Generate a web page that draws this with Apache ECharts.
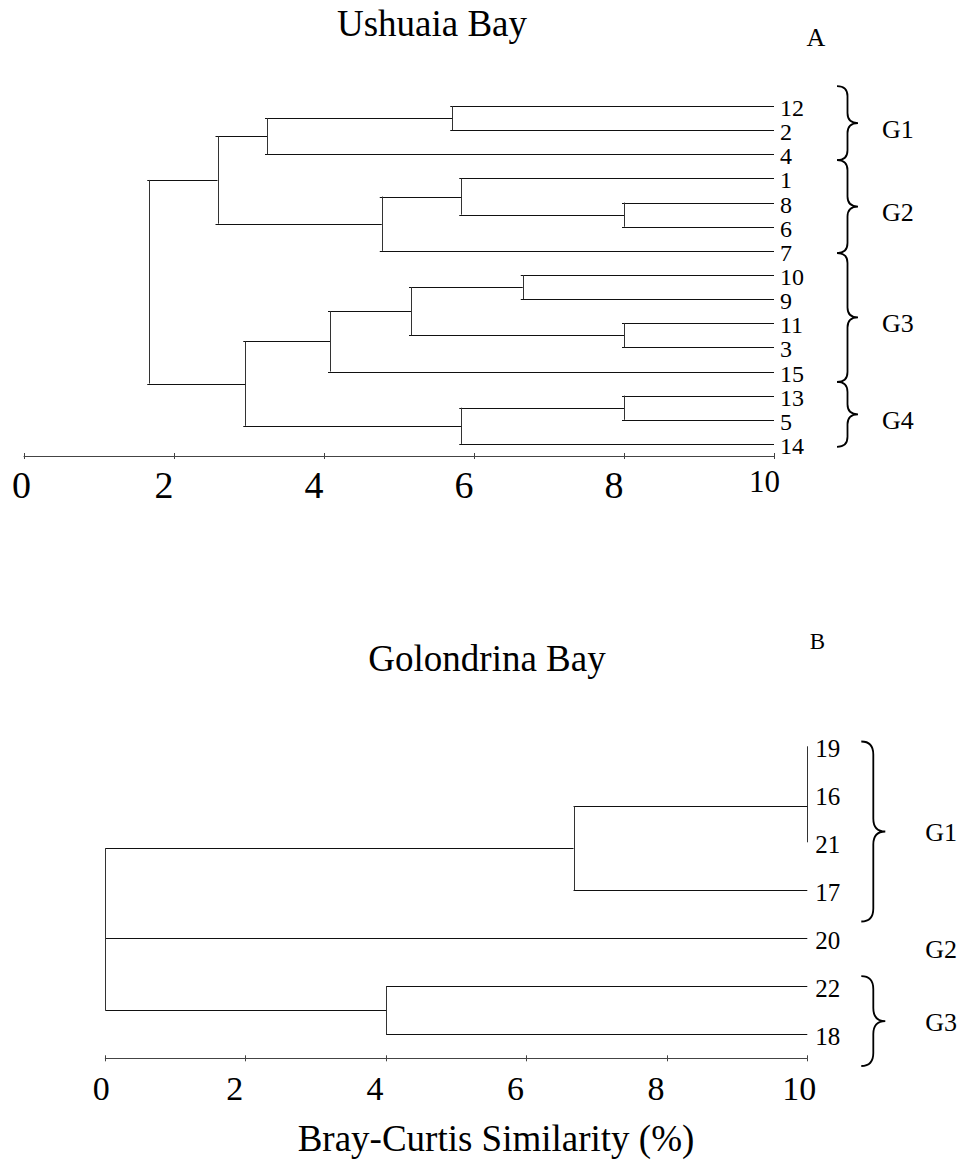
<!DOCTYPE html>
<html><head><meta charset="utf-8">
<script src="https://cdn.jsdelivr.net/npm/echarts@6/dist/echarts.min.js"></script>
<style>html,body{margin:0;padding:0;background:#fff}#c{width:965px;height:1165px}</style>
</head><body><div id="c"></div>
<script>
// ---------------- data ----------------
const axisTicks = [0, 2, 4, 6, 8, 10];
const leafLevel = 10;

const ushuaiaLeaves = ['12','2','4','1','8','6','7','10','9','11','3','15','13','5','14'];
// [childA, childB, similarity]; indices >= leaves.length refer to earlier merges
const ushuaiaMerges = [
  [0, 1, 5.71], [15, 2, 3.24], [4, 5, 8.0], [3, 17, 5.83], [18, 6, 4.77], [16, 19, 2.58],
  [7, 8, 6.65], [9, 10, 8.0], [21, 22, 5.16], [23, 11, 4.08], [12, 13, 8.0], [25, 14, 5.83],
  [24, 26, 2.95], [20, 27, 1.67]
];
const ushuaiaGroups = ['G1', 'G2', 'G3', 'G4'];
const ushuaiaGroupSpans = [[-0.83, 2.24], [2.24, 6.09], [6.09, 11.43], [11.43, 14.12]];
const ushuaiaBraced = [true, true, true, true];

const golondrinaLeaves = ['19','16','21','17','20','22','18'];
const golondrinaMerges = [[0, 1, 10], [7, 2, 10], [8, 3, 6.67], [5, 6, 4.0], [9, 4, 0], [11, 10, 0]];
const golondrinaGroups = ['G1', 'G2', 'G3'];
const golondrinaGroupSpans = [[-0.1, 3.65], [3.65, 4.79], [4.79, 6.66]];
const golondrinaBraced = [true, false, true];

// ---------------- helpers ----------------
const FONT = 'Liberation Serif, Times New Roman, serif';

function dendroSegments(nLeaves, merges) {
  const nodes = [];
  for (let i = 0; i < nLeaves; i++) nodes.push({ x: leafLevel, y: i });
  const segs = [];
  merges.forEach(([a, b, h]) => {
    const A = nodes[a], B = nodes[b];
    segs.push([A.x, A.y, h, A.y, 1]);
    segs.push([B.x, B.y, h, B.y, 1]);
    segs.push([h, A.y, h, B.y, 0]);
    nodes.push({ x: h, y: (A.y + B.y) / 2 });
  });
  return segs;
}

function txt(text, x, y, size, align) {
  return { type: 'text', x: 0, y: 0, style: {
    text: text, x: x, y: y, font: size + 'px ' + FONT, fill: '#000',
    textAlign: align || 'left', textVerticalAlign: 'middle', align: align || 'left', verticalAlign: 'middle'
  } };
}

function dendroSeries(idx, leaves, merges, groups, spans, braced, st) {
  const segs = dendroSegments(leaves.length, merges);
  const linesSeries = {
    type: 'custom', xAxisIndex: idx * 2, yAxisIndex: idx, clip: false, silent: true,
    data: segs, encode: { x: [0, 2], y: [1, 3] },
    renderItem: function (params, api) {
      const p1 = api.coord([api.value(0), api.value(1)]);
      const p2 = api.coord([api.value(2), api.value(3)]);
      const horiz = api.value(4) === 1;
      let x1 = p1[0], x2 = p2[0], y1 = p1[1], y2 = p2[1];
      if (horiz) { y1 = y2 = Math.round(y1) + 0.5; if (st.stub) x2 -= 2; }
      else { x1 = x2 = Math.round(x1) + 0.5; }
      return { type: 'line', shape: { x1: x1, y1: y1, x2: x2, y2: y2 },
        style: { stroke: horiz ? '#111' : '#333', lineWidth: 1 } };
    }
  };
  const labelSeries = {
    type: 'custom', xAxisIndex: idx * 2, yAxisIndex: idx, clip: false, silent: true,
    data: leaves.map((n, i) => [leafLevel, i]),
    renderItem: function (params, api) {
      const p = api.coord([api.value(0), api.value(1)]);
      return txt(leaves[params.dataIndex], p[0] + st.leafGap, p[1] + 2, st.leafSize, 'left');
    }
  };
  const braceSeries = {
    type: 'custom', xAxisIndex: idx * 2, yAxisIndex: idx, clip: false, silent: true,
    data: spans.map(s => [leafLevel, s[0], s[1]]),
    renderItem: function (params, api) {
      const pa = api.coord([api.value(0), api.value(1)]);
      const pb = api.coord([api.value(0), api.value(2)]);
      const ya = pa[1], yb = pb[1], ym = (ya + yb) / 2;
      const x0 = pa[0] + st.braceOff, x2 = x0 + st.braceW, x1 = (x0 + x2) / 2;
      const r = Math.min(st.braceR, (yb - ya) / 4);
      const children = [];
      if (braced[params.dataIndex]) {
        const d = 'M' + x0 + ' ' + ya + ' Q' + x1 + ' ' + ya + ' ' + x1 + ' ' + (ya + r) +
          ' L' + x1 + ' ' + (ym - r) + ' Q' + x1 + ' ' + ym + ' ' + x2 + ' ' + ym +
          ' Q' + x1 + ' ' + ym + ' ' + x1 + ' ' + (ym + r) +
          ' L' + x1 + ' ' + (yb - r) + ' Q' + x1 + ' ' + yb + ' ' + x0 + ' ' + yb;
        children.push({ type: 'path', shape: { pathData: d },
          style: { fill: 'none', stroke: '#000', lineWidth: 1.8 } });
      }
      children.push(txt(groups[params.dataIndex], pa[0] + st.groupOff, ym + st.groupDy, st.groupSize, 'left'));
      return { type: 'group', children: children };
    }
  };
  return [linesSeries, labelSeries, braceSeries];
}

function xAxes(gridIndex, rich, fmt, margin) {
  const line = { color: '#444', width: 1 };
  return [
    { gridIndex: gridIndex, type: 'value', min: 0, max: 10, interval: 2, position: 'bottom',
      axisLine: { show: true, onZero: false, lineStyle: line }, splitLine: { show: false },
      axisTick: { show: true, length: 3, lineStyle: line, customValues: axisTicks },
      axisLabel: { show: true, margin: margin, formatter: fmt, rich: rich, customValues: axisTicks,
        fontFamily: FONT, color: '#000' } },
    { gridIndex: gridIndex, type: 'value', min: 0, max: 10, interval: 2, position: 'bottom',
      axisLine: { show: false, onZero: false }, splitLine: { show: false },
      axisTick: { show: true, inside: true, length: 3, lineStyle: line, customValues: axisTicks },
      axisLabel: { show: false } }
  ];
}

const topRich = {
  z: { fontSize: 38, fontFamily: FONT, color: '#000', padding: [0, 5, 0, 0] },
  a: { fontSize: 38, fontFamily: FONT, color: '#000', padding: [0, 20, 0, 0] },
  t: { fontSize: 31, fontFamily: FONT, color: '#000', padding: [0, 19, 0, 0] }
};
const botRich = {
  z: { fontSize: 34, fontFamily: FONT, color: '#000', padding: [0, 8, 0, 0] },
  a: { fontSize: 34, fontFamily: FONT, color: '#000', padding: [0, 22, 0, 0] },
  t: { fontSize: 34, fontFamily: FONT, color: '#000', padding: [0, 16, 0, 0] }
};
const fmt = v => (v === 0 ? '{z|' + v + '}' : v === 10 ? '{t|' + v + '}' : '{a|' + v + '}');

const chart = echarts.init(document.getElementById('c'), null, { renderer: 'svg', width: 965, height: 1165 });
chart.setOption({
  animation: false,
  backgroundColor: '#fff',
  grid: [
    { left: 24, top: 94, width: 750, height: 362 },
    { left: 105.3, top: 722.3, width: 702, height: 336 }
  ],
  xAxis: [].concat(xAxes(0, topRich, fmt, 10), xAxes(1, botRich, fmt, 13)),
  yAxis: [
    { gridIndex: 0, type: 'value', min: -0.5, max: 14.5, inverse: true, show: false },
    { gridIndex: 1, type: 'value', min: -0.5, max: 6.5, inverse: true, show: false }
  ],
  graphic: [
    txt('Ushuaia Bay', 432, 23, 37, 'center'),
    txt('A', 816, 37, 26, 'center'),
    txt('Golondrina Bay', 487, 658, 37, 'center'),
    txt('B', 817.5, 641.5, 23, 'center'),
    txt('Bray-Curtis Similarity (%)', 496, 1138, 37, 'center')
  ],
  series: [].concat(
    dendroSeries(0, ushuaiaLeaves, ushuaiaMerges, ushuaiaGroups, ushuaiaGroupSpans, ushuaiaBraced,
      { stub: true, leafGap: 6, leafSize: 24, braceOff: 63, braceW: 21, braceR: 10, groupOff: 108, groupDy: 6, groupSize: 26 }),
    dendroSeries(1, golondrinaLeaves, golondrinaMerges, golondrinaGroups, golondrinaGroupSpans, golondrinaBraced,
      { stub: false, leafGap: 8, leafSize: 25, braceOff: 54, braceW: 24, braceR: 13, groupOff: 118, groupDy: 1, groupSize: 26 })
  )
});
</script>
</body></html>
